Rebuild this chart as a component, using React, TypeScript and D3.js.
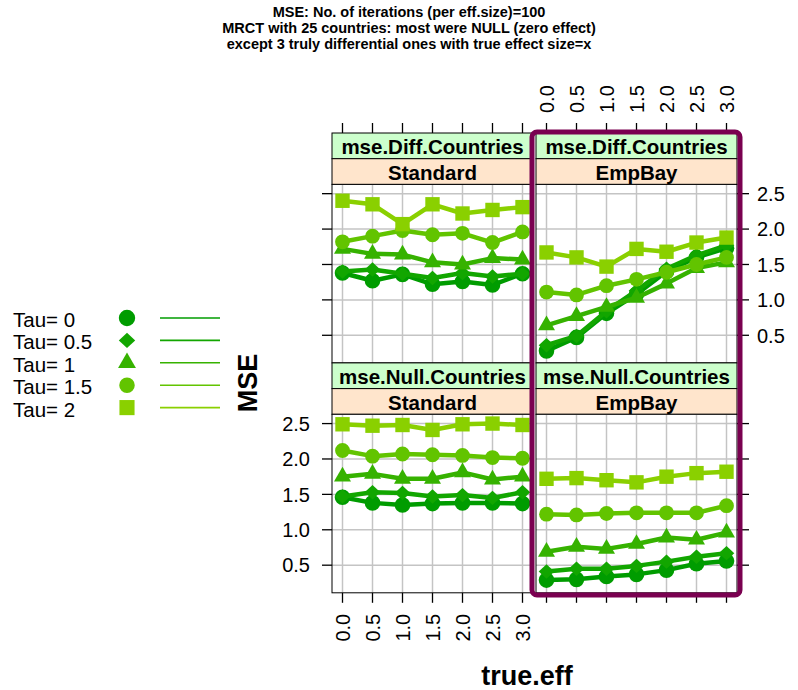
import React from 'react';
import * as d3 from 'd3';

const xVals = [0, 0.5, 1, 1.5, 2, 2.5, 3];
const xTickLabels = ['0.0', '0.5', '1.0', '1.5', '2.0', '2.5', '3.0'];
const yTicks = [0.5, 1, 1.5, 2, 2.5];
const yTickLabels = ['0.5', '1.0', '1.5', '2.0', '2.5'];
const tauLabels = ['Tau= 0', 'Tau= 0.5', 'Tau= 1', 'Tau= 1.5', 'Tau= 2'];
const tauColors = ['#009c00', '#12a600', '#36b200', '#62c400', '#8ad000'];
const tauShapes = ['circle', 'diamond', 'triangle', 'circle2', 'square'];
const methods = ['Standard', 'EmpBay'];
const measures = ['mse.Diff.Countries', 'mse.Null.Countries'];
const titleLines = [
  'MSE: No. of iterations (per eff.size)=100',
  'MRCT with 25 countries: most were NULL (zero effect)',
  'except 3 truly differential ones with true effect size=x',
];

// rows: tau 0, 0.5, 1, 1.5, 2 ; columns: true.eff 0..3
const diffStandard = [
  [1.38, 1.27, 1.36, 1.22, 1.26, 1.21, 1.37],
  [1.40, 1.43, 1.37, 1.31, 1.38, 1.33, 1.37],
  [1.72, 1.65, 1.64, 1.53, 1.50, 1.59, 1.57],
  [1.82, 1.90, 1.98, 1.92, 1.94, 1.81, 1.96],
  [2.40, 2.35, 2.07, 2.35, 2.22, 2.27, 2.31],
];
const diffEmpBay = [
  [0.28, 0.47, 0.81, 1.08, 1.40, 1.60, 1.73],
  [0.36, 0.49, 0.84, 1.13, 1.44, 1.63, 1.77],
  [0.64, 0.77, 0.90, 1.03, 1.23, 1.45, 1.53],
  [1.11, 1.07, 1.20, 1.29, 1.39, 1.50, 1.60],
  [1.67, 1.60, 1.47, 1.72, 1.68, 1.81, 1.88],
];
const nullStandard = [
  [1.46, 1.38, 1.35, 1.37, 1.38, 1.38, 1.37],
  [1.47, 1.53, 1.52, 1.47, 1.49, 1.45, 1.53],
  [1.75, 1.79, 1.72, 1.72, 1.81, 1.71, 1.75],
  [2.12, 2.04, 2.07, 2.06, 2.05, 2.02, 2.01],
  [2.49, 2.47, 2.48, 2.41, 2.49, 2.50, 2.48],
];
const nullEmpBay = [
  [0.29, 0.30, 0.34, 0.37, 0.43, 0.52, 0.56],
  [0.41, 0.45, 0.45, 0.49, 0.55, 0.62, 0.67],
  [0.69, 0.76, 0.73, 0.80, 0.89, 0.86, 0.96],
  [1.22, 1.21, 1.23, 1.24, 1.24, 1.24, 1.34],
  [1.72, 1.73, 1.70, 1.67, 1.75, 1.80, 1.82],
];

const panelData = [
  [diffStandard, diffEmpBay],
  [nullStandard, nullEmpBay],
];

const FONT = '"Liberation Sans", Arial, sans-serif';
const panelX = [332, 536];
const panelW = 201;
const panelTop = [133, 362.9];
const stripH = 25.7;
const plotH = 178.5;
const xDomain = [-0.175, 3.175];
const yDomain = [0.11, 2.631];
const frameColor = '#7a0050';

function markerPath(shape: string, x: number, y: number, scale = 1): string {
  if (shape === 'circle' || shape === 'circle2') {
    const r = (shape === 'circle' ? 7.8 : 7.4) * scale;
    const p = d3.path();
    p.moveTo(x + r, y);
    p.arc(x, y, r, 0, Math.PI * 2);
    return p.toString();
  }
  if (shape === 'square') {
    const h = 7.2 * scale;
    return `M${x - h},${y - h}H${x + h}V${y + h}H${x - h}Z`;
  }
  if (shape === 'diamond') {
    const w = 7.8 * scale;
    const h = 7.2 * scale;
    return `M${x},${y - h}L${x + w},${y}L${x},${y + h}L${x - w},${y}Z`;
  }
  // triangle
  const s = 17 * scale;
  const hh = (s * Math.sqrt(3)) / 2;
  return `M${x},${y - (2 * hh) / 3}L${x + s / 2},${y + hh / 3}L${x - s / 2},${y + hh / 3}Z`;
}

function Panel({ row, col }: { row: number; col: number }) {
  const x0 = panelX[col];
  const top = panelTop[row];
  const plotTop = top + 2 * stripH;
  const xs = d3.scaleLinear().domain(xDomain).range([x0, x0 + panelW]);
  const ys = d3.scaleLinear().domain(yDomain).range([plotTop + plotH, plotTop]);
  const data = panelData[row][col];
  const line = d3
    .line<number>()
    .x((_, i) => xs(xVals[i]))
    .y((d) => ys(d));
  return (
    <g>
      {/* strips */}
      <rect x={x0} y={top} width={panelW} height={stripH} fill="#ccffcc" stroke="#000" strokeWidth={1} />
      <rect x={x0} y={top + stripH} width={panelW} height={stripH} fill="#ffe5cc" stroke="#000" strokeWidth={1} />
      <text x={x0 + panelW / 2} y={top + 21.3} textAnchor="middle" fontFamily={FONT} fontWeight="bold" fontSize={20.5}>
        {measures[row]}
      </text>
      <text x={x0 + panelW / 2} y={top + stripH + 21.3} textAnchor="middle" fontFamily={FONT} fontWeight="bold" fontSize={20.5}>
        {methods[col]}
      </text>
      {/* grid */}
      <rect x={x0} y={plotTop} width={panelW} height={plotH} fill="#fff" />
      {xVals.map((v) => (
        <line key={'gx' + v} x1={xs(v)} x2={xs(v)} y1={plotTop} y2={plotTop + plotH} stroke="#c4c4c4" strokeWidth={1.5} />
      ))}
      {yTicks.map((v) => (
        <line key={'gy' + v} x1={x0} x2={x0 + panelW} y1={ys(v)} y2={ys(v)} stroke="#c4c4c4" strokeWidth={1.5} />
      ))}
      {/* series */}
      {data.map((series, k) => (
        <g key={'s' + k}>
          <path d={line(series) || ''} fill="none" stroke={tauColors[k]} strokeWidth={4.5} strokeLinejoin="round" />
          {series.map((v, i) => (
            <path key={i} d={markerPath(tauShapes[k], xs(xVals[i]), ys(v))} fill={tauColors[k]} />
          ))}
        </g>
      ))}
      <rect x={x0} y={plotTop} width={panelW} height={plotH} fill="none" stroke="#000" strokeWidth={1} />
    </g>
  );
}

function Axes() {
  const els: React.ReactNode[] = [];
  const tick = 10;
  // x axes: bottom under left column (labels), top above right column (labels); ticks on all
  for (let col = 0; col < 2; col++) {
    const x0 = panelX[col];
    const xs = d3.scaleLinear().domain(xDomain).range([x0, x0 + panelW]);
    const bottom = panelTop[1] + 2 * stripH + plotH;
    const top = panelTop[0];
    xVals.forEach((v, i) => {
      const px = xs(v);
      els.push(<line key={`bt${col}${i}`} x1={px} x2={px} y1={bottom} y2={bottom + tick} stroke="#000" strokeWidth={1.3} />);
      els.push(<line key={`tt${col}${i}`} x1={px} x2={px} y1={top} y2={top - tick} stroke="#000" strokeWidth={1.3} />);
      if (col === 0) {
        els.push(
          <text key={`bl${i}`} transform={`translate(${px + 7.3},${bottom + 21}) rotate(-90)`} textAnchor="end" fontFamily={FONT} fontSize={20} fill="#000">
            {xTickLabels[i]}
          </text>
        );
      } else {
        els.push(
          <text key={`tl${i}`} transform={`translate(${px + 7.3},${top - 20}) rotate(-90)`} textAnchor="start" fontFamily={FONT} fontSize={20} fill="#000">
            {xTickLabels[i]}
          </text>
        );
      }
    });
  }
  // y axes
  for (let row = 0; row < 2; row++) {
    const plotTop = panelTop[row] + 2 * stripH;
    const ys = d3.scaleLinear().domain(yDomain).range([plotTop + plotH, plotTop]);
    const left = panelX[0];
    const right = panelX[1] + panelW;
    yTicks.forEach((v, i) => {
      const py = ys(v);
      els.push(<line key={`lt${row}${i}`} x1={left - tick} x2={left} y1={py} y2={py} stroke="#000" strokeWidth={1.3} />);
      els.push(<line key={`rt${row}${i}`} x1={right} x2={right + tick + 2} y1={py} y2={py} stroke="#000" strokeWidth={1.3} />);
      if (row === 1) {
        els.push(
          <text key={`ll${i}`} x={left - 22} y={py + 7.3} textAnchor="end" fontFamily={FONT} fontSize={20} fill="#000">
            {yTickLabels[i]}
          </text>
        );
      } else {
        els.push(
          <text key={`rl${i}`} x={right + 20} y={py + 7.3} textAnchor="start" fontFamily={FONT} fontSize={20} fill="#000">
            {yTickLabels[i]}
          </text>
        );
      }
    });
  }
  return <g>{els}</g>;
}

function Legend() {
  return (
    <g>
      {tauLabels.map((lab, k) => {
        const base = 327 + k * 22.4;
        const cy = base - 9;
        return (
          <g key={k}>
            <text x={13} y={base} fontFamily={FONT} fontSize={20.5} fill="#000">
              {lab}
            </text>
            <path d={markerPath(tauShapes[k], 127, cy, 1.05)} fill={tauColors[k]} />
            <line x1={160} x2={220} y1={cy} y2={cy} stroke={tauColors[k]} strokeWidth={1.6} />
          </g>
        );
      })}
    </g>
  );
}

export default function App() {
  return (
    <svg width={798} height={690} style={{ position: 'absolute', left: 0, top: 0, background: '#fff' }}>
      <rect x={0} y={0} width={798} height={690} fill="#fff" />
      {titleLines.map((t, i) => (
        <text key={i} x={409} y={17 + i * 16} textAnchor="middle" fontFamily={FONT} fontWeight="bold" fontSize={14.5} fill="#000">
          {t}
        </text>
      ))}
      <Legend />
      <Axes />
      {[0, 1].map((row) => [0, 1].map((col) => <Panel key={`${row}-${col}`} row={row} col={col} />))}
      <rect x={532} y={132} width={208} height={463} rx={5} fill="none" stroke={frameColor} strokeWidth={5} />
      <text transform="translate(257,383) rotate(-90)" textAnchor="middle" fontFamily={FONT} fontWeight="bold" fontSize={27} fill="#000">
        MSE
      </text>
      <text x={527} y={685} textAnchor="middle" fontFamily={FONT} fontWeight="bold" fontSize={27} fill="#000">
        true.eff
      </text>
    </svg>
  );
}
